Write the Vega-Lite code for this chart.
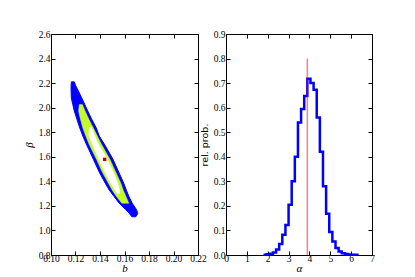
{
  "$schema": "https://vega.github.io/schema/vega-lite/v6.json",
  "padding": {"left": 22, "top": 28, "right": 0, "bottom": 0},
  "spacing": 28,
  "bounds": "flush",
  "config": {
    "view": {"stroke": "black", "strokeWidth": 1},
    "axis": {"labelFont": "Liberation Serif", "labelFontSize": 9.5, "labelColor": "black", "tickColor": "black", "domainColor": "black", "grid": false, "tickSize": -4, "labelPadding": 5, "titleFontWeight": "normal", "titleColor": "black", "titleFont": "Liberation Serif", "titleFontStyle": "italic", "titleFontSize": 11}
  },
  "hconcat": [
    {
      "width": 147,
      "height": 221,
      "data": {"values": [
        {"region": "outer", "beta": 2.2103, "L": 0.1166, "R": 0.1190},
        {"region": "outer", "beta": 2.1776, "L": 0.1164, "R": 0.1202},
        {"region": "outer", "beta": 2.1368, "L": 0.1164, "R": 0.1223},
        {"region": "outer", "beta": 2.0796, "L": 0.1166, "R": 0.1251},
        {"region": "outer", "beta": 2.0248, "L": 0.1178, "R": 0.1276},
        {"region": "outer", "beta": 1.9734, "L": 0.1190, "R": 0.1300},
        {"region": "outer", "beta": 1.9080, "L": 0.1211, "R": 0.1331},
        {"region": "outer", "beta": 1.8345, "L": 0.1235, "R": 0.1370},
        {"region": "outer", "beta": 1.7691, "L": 0.1260, "R": 0.1394},
        {"region": "outer", "beta": 1.7038, "L": 0.1288, "R": 0.1435},
        {"region": "outer", "beta": 1.5812, "L": 0.1345, "R": 0.1505},
        {"region": "outer", "beta": 1.4750, "L": 0.1394, "R": 0.1553},
        {"region": "outer", "beta": 1.3851, "L": 0.1443, "R": 0.1594},
        {"region": "outer", "beta": 1.3279, "L": 0.1476, "R": 0.1615},
        {"region": "outer", "beta": 1.2789, "L": 0.1513, "R": 0.1635},
        {"region": "outer", "beta": 1.2217, "L": 0.1557, "R": 0.1663},
        {"region": "outer", "beta": 1.1727, "L": 0.1607, "R": 0.1696},
        {"region": "outer", "beta": 1.1400, "L": 0.1639, "R": 0.1709},
        {"region": "outer", "beta": 1.1114, "L": 0.1660, "R": 0.1692},
        {"region": "mid", "beta": 2.0248, "L": 0.1231, "R": 0.1256},
        {"region": "mid", "beta": 1.9734, "L": 0.1225, "R": 0.1278},
        {"region": "mid", "beta": 1.9080, "L": 0.1240, "R": 0.1308},
        {"region": "mid", "beta": 1.8345, "L": 0.1260, "R": 0.1346},
        {"region": "mid", "beta": 1.7691, "L": 0.1284, "R": 0.1378},
        {"region": "mid", "beta": 1.7038, "L": 0.1310, "R": 0.1411},
        {"region": "mid", "beta": 1.5812, "L": 0.1370, "R": 0.1480},
        {"region": "mid", "beta": 1.4750, "L": 0.1419, "R": 0.1529},
        {"region": "mid", "beta": 1.3851, "L": 0.1468, "R": 0.1570},
        {"region": "mid", "beta": 1.3279, "L": 0.1500, "R": 0.1590},
        {"region": "mid", "beta": 1.2789, "L": 0.1533, "R": 0.1611},
        {"region": "mid", "beta": 1.2217, "L": 0.1578, "R": 0.1635},
        {"region": "inner", "beta": 1.8400, "L": 0.1313, "R": 0.1329},
        {"region": "inner", "beta": 1.7691, "L": 0.1309, "R": 0.1358},
        {"region": "inner", "beta": 1.7038, "L": 0.1337, "R": 0.1386},
        {"region": "inner", "beta": 1.5812, "L": 0.1390, "R": 0.1460},
        {"region": "inner", "beta": 1.4750, "L": 0.1439, "R": 0.1509},
        {"region": "inner", "beta": 1.3851, "L": 0.1488, "R": 0.1545},
        {"region": "inner", "beta": 1.3279, "L": 0.1521, "R": 0.1562},
        {"region": "inner", "beta": 1.3000, "L": 0.1541, "R": 0.1558}
      ]},
      "resolve": {"axis": {"x": "independent", "y": "independent"}},
      "layer": [
        {
          "transform": [{"filter": "datum.region == 'outer'"}],
          "mark": {"type": "area", "orient": "horizontal", "fill": "#0000ff", "stroke": "#0000ff", "strokeWidth": 1},
          "encoding": {
            "y": {"field": "beta", "type": "quantitative", "scale": {"domain": [0.8, 2.6], "nice": false}, "axis": {"values": [0.8, 1.0, 1.2, 1.4, 1.6, 1.8, 2.0, 2.2, 2.4, 2.6], "format": ".1f", "title": "β", "titlePadding": 4, "labelFlush": false, "labelOverlap": false}},
            "x": {"field": "L", "type": "quantitative", "scale": {"domain": [0.1, 0.22], "nice": false}, "axis": {"values": [0.10, 0.12, 0.14, 0.16, 0.18, 0.20, 0.22], "format": ".2f", "title": "b", "labelPadding": 2, "titlePadding": 0, "labelFlush": false, "labelOverlap": false}},
            "x2": {"field": "R"}
          }
        },
        {
          "transform": [{"filter": "datum.region == 'mid'"}],
          "mark": {"type": "area", "orient": "horizontal", "fill": "#c4fa2c", "stroke": "#c4fa2c", "strokeWidth": 0.5},
          "encoding": {
            "y": {"field": "beta", "type": "quantitative", "axis": null},
            "x": {"field": "L", "type": "quantitative", "axis": null},
            "x2": {"field": "R"}
          }
        },
        {
          "transform": [{"filter": "datum.region == 'inner'"}],
          "mark": {"type": "area", "orient": "horizontal", "fill": "#ffffff", "stroke": "#ffffff", "strokeWidth": 0.5},
          "encoding": {
            "y": {"field": "beta", "type": "quantitative", "axis": null},
            "x": {"field": "L", "type": "quantitative", "axis": null},
            "x2": {"field": "R"}
          }
        },
        {
          "data": {"values": [{"b": 0.1438, "beta": 1.579}]},
          "mark": {"type": "square", "size": 12, "filled": true, "color": "#d00000", "opacity": 1},
          "encoding": {
            "x": {"field": "b", "type": "quantitative", "axis": null},
            "y": {"field": "beta", "type": "quantitative", "axis": null}
          }
        },
        {
          "data": {"values": [{"b": 0.1, "beta": 0.8}]},
          "mark": {"type": "point", "opacity": 0},
          "encoding": {
            "x": {"field": "b", "type": "quantitative", "axis": {"orient": "top", "values": [0.10, 0.12, 0.14, 0.16, 0.18, 0.20, 0.22], "labels": false, "domain": false, "title": null}},
            "y": {"field": "beta", "type": "quantitative", "axis": {"orient": "right", "values": [0.8, 1.0, 1.2, 1.4, 1.6, 1.8, 2.0, 2.2, 2.4, 2.6], "labels": false, "domain": false, "title": null}}
          }
        }
      ]
    },
    {
      "width": 146,
      "height": 221,
      "resolve": {"axis": {"x": "independent", "y": "independent"}},
      "layer": [
        {
          "data": {"values": [
            {"a": 1.80, "v": 0.001}, {"a": 1.95, "v": 0.003}, {"a": 2.10, "v": 0.005}, {"a": 2.25, "v": 0.010},
            {"a": 2.40, "v": 0.022}, {"a": 2.55, "v": 0.045}, {"a": 2.70, "v": 0.082}, {"a": 2.85, "v": 0.122},
            {"a": 3.00, "v": 0.205}, {"a": 3.15, "v": 0.300}, {"a": 3.30, "v": 0.400}, {"a": 3.45, "v": 0.540},
            {"a": 3.60, "v": 0.595}, {"a": 3.75, "v": 0.648}, {"a": 3.90, "v": 0.718}, {"a": 4.05, "v": 0.700},
            {"a": 4.20, "v": 0.673}, {"a": 4.35, "v": 0.560}, {"a": 4.50, "v": 0.420}, {"a": 4.65, "v": 0.280},
            {"a": 4.80, "v": 0.168}, {"a": 4.95, "v": 0.094}, {"a": 5.10, "v": 0.055}, {"a": 5.25, "v": 0.028},
            {"a": 5.40, "v": 0.014}, {"a": 5.55, "v": 0.007}, {"a": 5.70, "v": 0.004}, {"a": 5.85, "v": 0.002},
            {"a": 6.00, "v": 0.001}, {"a": 6.15, "v": 0.001}, {"a": 6.30, "v": 0.0}
          ]},
          "mark": {"type": "line", "interpolate": "step-after", "color": "#0000ff", "strokeWidth": 2.5},
          "encoding": {
            "x": {"field": "a", "type": "quantitative", "scale": {"domain": [0, 7], "nice": false}, "axis": {"values": [0, 1, 2, 3, 4, 5, 6, 7], "format": "d", "title": "α", "labelPadding": 2, "titlePadding": 0, "labelFlush": false, "labelOverlap": false}},
            "y": {"field": "v", "type": "quantitative", "scale": {"domain": [0, 0.9], "nice": false}, "axis": {"values": [0, 0.1, 0.2, 0.3, 0.4, 0.5, 0.6, 0.7, 0.8, 0.9], "format": ".1f", "title": "rel. prob.", "titleFont": "DejaVu Sans", "titleFontStyle": "normal", "titleFontSize": 9.5, "titlePadding": 4, "labelFlush": false, "labelOverlap": false}}
          }
        },
        {
          "data": {"values": [{"a": 3.9, "y0": 0, "y1": 0.8}]},
          "mark": {"type": "rule", "color": "#ff0000", "opacity": 0.5, "strokeWidth": 1.5},
          "encoding": {
            "x": {"field": "a", "type": "quantitative", "axis": null},
            "y": {"field": "y0", "type": "quantitative", "axis": null},
            "y2": {"field": "y1"}
          }
        },
        {
          "data": {"values": [{"a": 0, "v": 0}]},
          "mark": {"type": "point", "opacity": 0},
          "encoding": {
            "x": {"field": "a", "type": "quantitative", "axis": {"orient": "top", "values": [0, 1, 2, 3, 4, 5, 6, 7], "labels": false, "domain": false, "title": null}},
            "y": {"field": "v", "type": "quantitative", "axis": {"orient": "right", "values": [0, 0.1, 0.2, 0.3, 0.4, 0.5, 0.6, 0.7, 0.8, 0.9], "labels": false, "domain": false, "title": null}}
          }
        }
      ]
    }
  ]
}
